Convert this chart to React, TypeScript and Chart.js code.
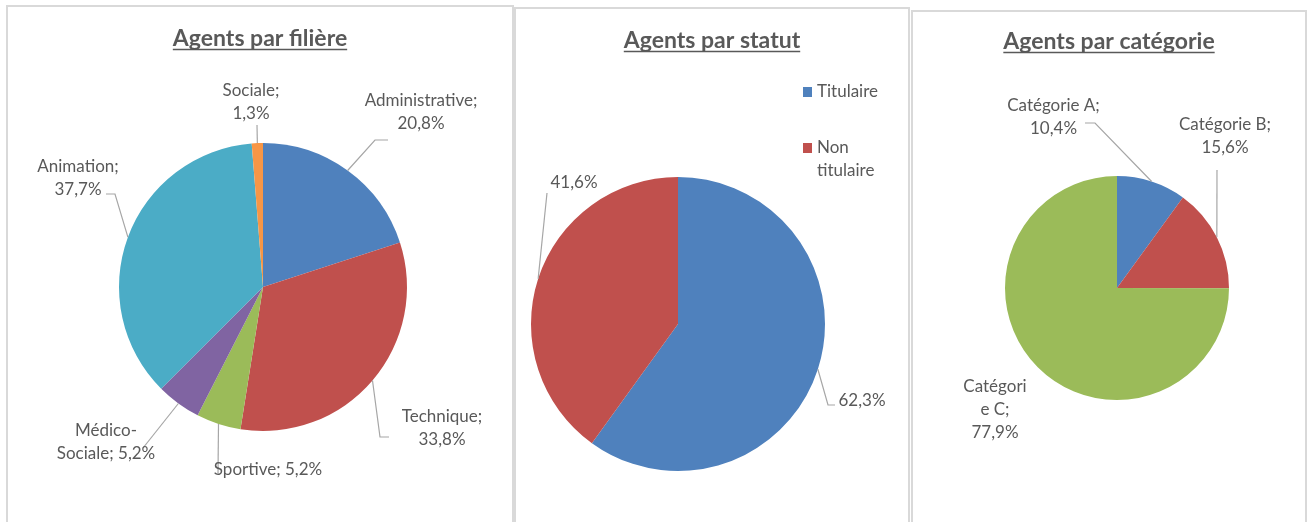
import React, { useEffect, useRef } from "react";
import { Chart, registerables } from "chart.js";

Chart.register(...registerables);

// ---------- DATA ----------
const filiereLabels = ["Administrative", "Technique", "Sportive", "Médico-Sociale", "Animation", "Sociale"];
const filiereValues = [20.8, 33.8, 5.2, 5.2, 37.7, 1.3];

const statutLabels = ["Titulaire", "Non titulaire"];
const statutValues = [62.3, 41.6];

const categorieLabels = ["Catégorie A", "Catégorie B", "Catégorie C"];
const categorieValues = [10.4, 15.6, 77.9];

// ---------- STYLE ----------
const BLUE = "#4F81BD";
const RED = "#C0504D";
const GREEN = "#9BBB59";
const PURPLE = "#8064A2";
const TEAL = "#4BACC6";
const ORANGE = "#F79646";

const FONT = "Lato, 'Open Sans', sans-serif";
const TEXT_COLOR = "#595959";
const LEADER_COLOR = "#a6a6a6";
const LABEL_SIZE = 17;
const TITLE_SIZE = 23;
const LINE_H = 23;
const H = 522;

const pct = (v: number) => v.toFixed(1).replace(".", ",") + "%";

type LabelStyle = {
  lines: (n: string, p: string) => string[];
  tx: number;
  ty: number;
  leader: [number, number][];
};

type PanelCfg = {
  title: string;
  labels: string[];
  values: number[];
  colors: string[];
  left: number;
  top: number;
  width: number;
  cx: number;
  cy: number;
  r: number;
  titleBase: number;
  labelStyles: LabelStyle[];
  legend?: { x: number; ys: number[]; lineH: number; maxW: number };
};

const panels: PanelCfg[] = [
  {
    title: "Agents par filière",
    labels: filiereLabels,
    values: filiereValues,
    colors: [BLUE, RED, GREEN, PURPLE, TEAL, ORANGE],
    left: 6,
    top: 5,
    width: 508,
    cx: 263,
    cy: 287,
    r: 144,
    titleBase: 46,
    labelStyles: [
      { lines: (n, p) => [n + ";", p], tx: 158, ty: -174.5, leader: [[112, -147], [125, -147]] },
      { lines: (n, p) => [n + ";", p], tx: 179, ty: 141.5, leader: [[117, 150], [126, 150]] },
      { lines: (n, p) => [n + "; " + p], tx: 5, ty: 183, leader: [[-45, 186]] },
      {
        lines: (n, p) => {
          const i = n.indexOf("-") + 1;
          return [n.slice(0, i), n.slice(i) + "; " + p];
        },
        tx: -157,
        ty: 155.5,
        leader: [[-120, 161]],
      },
      { lines: (n, p) => [n + ";", p], tx: -185, ty: -109, leader: [[-148, -93], [-157, -93]] },
      { lines: (n, p) => [n + ";", p], tx: -12, ty: -184.5, leader: [[-6, -162]] },
    ],
  },
  {
    title: "Agents par statut",
    labels: statutLabels,
    values: statutValues,
    colors: [BLUE, RED],
    left: 514,
    top: 7,
    width: 396,
    cx: 678,
    cy: 324,
    r: 147,
    titleBase: 48,
    labelStyles: [
      { lines: (_n, p) => [p], tx: 184, ty: 77, leader: [[150, 81], [157, 81]] },
      { lines: (_n, p) => [p], tx: -104, ty: -141, leader: [[-131, -131]] },
    ],
    legend: { x: 803, ys: [92, 148], lineH: 23, maxW: 75 },
  },
  {
    title: "Agents par catégorie",
    labels: categorieLabels,
    values: categorieValues,
    colors: [BLUE, RED, GREEN],
    left: 911,
    top: 10,
    width: 396,
    cx: 1117,
    cy: 288,
    r: 112,
    titleBase: 49,
    labelStyles: [
      { lines: (n, p) => [n + ";", p], tx: -63.5, ty: -170.5, leader: [[-22, -165], [-32, -165]] },
      { lines: (n, p) => [n + ";", p], tx: 108, ty: -152, leader: [[100, -118]] },
      {
        lines: (n, p) => [n.slice(0, 8), n.slice(8) + ";", p],
        tx: -122,
        ty: 121.5,
        leader: [],
      },
    ],
  },
];

function wrapWords(ctx: CanvasRenderingContext2D, text: string, maxW: number): string[] {
  const words = text.split(" ");
  const out: string[] = [];
  let cur = "";
  for (const w of words) {
    const t = cur ? cur + " " + w : w;
    if (ctx.measureText(t).width > maxW && cur) {
      out.push(cur);
      cur = w;
    } else cur = t;
  }
  if (cur) out.push(cur);
  return out;
}

function PieChart({ cfg }: { cfg: PanelCfg }) {
  const ref = useRef<HTMLCanvasElement>(null);
  useEffect(() => {
    const canvas = ref.current!;
    const W = cfg.width;
    const cxc = cfg.cx - cfg.left;
    const decor = {
      id: "pieDecor",
      afterDraw(chart: any) {
        const ctx: CanvasRenderingContext2D = chart.ctx;
        ctx.save();
        // title
        ctx.font = `bold ${TITLE_SIZE}px ${FONT}`;
        ctx.fillStyle = TEXT_COLOR;
        ctx.textAlign = "center";
        ctx.textBaseline = "alphabetic";
        ctx.fillText(cfg.title, W / 2, cfg.titleBase);
        const tw = ctx.measureText(cfg.title).width;
        ctx.strokeStyle = TEXT_COLOR;
        ctx.lineWidth = 1.5;
        ctx.beginPath();
        ctx.moveTo(W / 2 - tw / 2, cfg.titleBase + 3.5);
        ctx.lineTo(W / 2 + tw / 2, cfg.titleBase + 3.5);
        ctx.stroke();

        // data labels with leader lines
        const meta = chart.getDatasetMeta(0);
        ctx.font = `${LABEL_SIZE}px ${FONT}`;
        meta.data.forEach((el: any, i: number) => {
          const st = cfg.labelStyles[i];
          if (!st) return;
          const { x, y, startAngle, endAngle, outerRadius } = el.getProps(
            ["x", "y", "startAngle", "endAngle", "outerRadius"],
            true
          );
          const mid = (startAngle + endAngle) / 2;
          if (st.leader.length) {
            ctx.strokeStyle = LEADER_COLOR;
            ctx.lineWidth = 1.2;
            ctx.beginPath();
            ctx.moveTo(x + Math.cos(mid) * outerRadius, y + Math.sin(mid) * outerRadius);
            st.leader.forEach(([dx, dy]) => ctx.lineTo(x + dx, y + dy));
            ctx.stroke();
          }
          const lines = st.lines(chart.data.labels[i], pct(chart.data.datasets[0].data[i]));
          ctx.fillStyle = TEXT_COLOR;
          ctx.textAlign = "center";
          ctx.textBaseline = "middle";
          const y0 = y + st.ty - ((lines.length - 1) * LINE_H) / 2;
          lines.forEach((ln, k) => ctx.fillText(ln, x + st.tx, y0 + k * LINE_H));
        });

        // legend
        if (cfg.legend) {
          const lg = cfg.legend;
          const lx = lg.x - cfg.left;
          ctx.textAlign = "left";
          ctx.textBaseline = "middle";
          chart.data.labels.forEach((lab: string, i: number) => {
            const yy = lg.ys[i];
            ctx.fillStyle = chart.data.datasets[0].backgroundColor[i];
            ctx.fillRect(lx, yy - 5, 9, 10);
            ctx.fillStyle = TEXT_COLOR;
            const ls = wrapWords(ctx, lab, lg.maxW);
            ls.forEach((t, k) => ctx.fillText(t, lx + 14, yy + k * lg.lineH));
          });
        }
        ctx.restore();
      },
    };
    const chart = new Chart(canvas, {
      type: "pie",
      data: {
        labels: cfg.labels,
        datasets: [
          {
            data: cfg.values,
            backgroundColor: cfg.colors,
            borderWidth: 0,
          },
        ],
      },
      options: {
        responsive: false,
        animation: false,
        devicePixelRatio: 1,
        events: [],
        layout: {
          padding: {
            left: cxc - cfg.r,
            right: W - cxc - cfg.r,
            top: cfg.cy - cfg.r,
            bottom: H - cfg.cy - cfg.r,
          },
        },
        plugins: {
          legend: { display: false },
          tooltip: { enabled: false },
          title: { display: false },
        },
      },
      plugins: [decor],
    });
    return () => chart.destroy();
  }, [cfg]);
  return (
    <canvas
      ref={ref}
      width={cfg.width}
      height={H}
      style={{ position: "absolute", left: cfg.left, top: 0, width: cfg.width, height: H }}
    />
  );
}

export default function App() {
  return (
    <div
      style={{
        position: "absolute",
        left: 0,
        top: 0,
        width: 1308,
        height: H,
        overflow: "hidden",
        background: "#fff",
      }}
    >
      {panels.map((p, i) => (
        <div
          key={"b" + i}
          style={{
            position: "absolute",
            left: p.left,
            top: p.top,
            width: p.width,
            height: 600,
            border: "2px solid #d9d9d9",
            boxSizing: "border-box",
          }}
        />
      ))}
      {panels.map((p, i) => (
        <PieChart key={"c" + i} cfg={p} />
      ))}
    </div>
  );
}
